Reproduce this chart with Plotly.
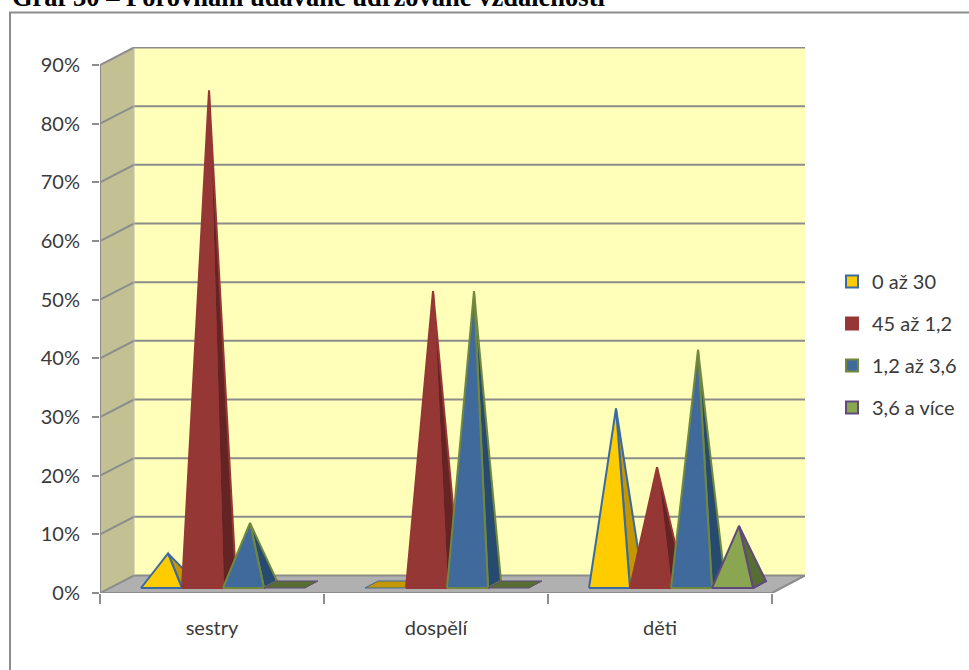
import plotly.graph_objects as go

categories = ["sestry", "dospělí", "děti"]
series_names = ["0 až 30", "45 až 1,2", "1,2 až 3,6", "3,6 a více"]
sestry = [5.3, 84.2, 10.5, 0]
dospeli = [0, 50, 50, 0]
deti = [30, 20, 40, 10]
y_ticks = [0, 10, 20, 30, 40, 50, 60, 70, 80, 90]
y_labels = ["0%", "10%", "20%", "30%", "40%", "50%", "60%", "70%", "80%", "90%"]

front_colors = ["#FFCC00", "#953735", "#40699C", "#8AA650"]
side_colors = ["#C49600", "#632423", "#264A70", "#586D33"]
line_colors = ["#3A6AA0", "#953735", "#71893F", "#5F4A7B"]

W, H = 969, 670
PX_L, PX_R, PX_T, PX_B = 100, 805, 47, 593
PX_PER_CAT = 224.0
PX_PER_PCT = (593 - 65) / 90
XMAX = (PX_R - PX_L) / PX_PER_CAT
YMAX = (PX_B - PX_T) / PX_PER_PCT
WALL_DX = 34 / PX_PER_CAT
WALL_DY = 17.5 / PX_PER_PCT
GROUP_START = 41 / PX_PER_CAT
BAR_W = 41 / PX_PER_CAT
BASE_DY0 = 5 / PX_PER_PCT
BASE_DY1 = 12 / PX_PER_PCT
BASE_DX = 13 / PX_PER_CAT
GRID = "#8C8C8C"

fig = go.Figure()


def poly(xs, ys, fill, line=None, width=0):
    fig.add_trace(go.Scatter(
        x=xs + xs[:1], y=ys + ys[:1], mode="lines", fill="toself", fillcolor=fill,
        line=dict(color=line or fill, width=width), showlegend=False, hoverinfo="skip",
        cliponaxis=False))


def seg(xs, ys, color=GRID, width=2):
    fig.add_trace(go.Scatter(x=xs, y=ys, mode="lines", line=dict(color=color, width=width),
                             showlegend=False, hoverinfo="skip", cliponaxis=False))


# walls and floor
poly([WALL_DX, XMAX, XMAX, WALL_DX], [WALL_DY, WALL_DY, 90 + WALL_DY, 90 + WALL_DY], "#FFFFB9")
poly([0, WALL_DX, WALL_DX, 0], [0, WALL_DY, 90 + WALL_DY, 90], "#C3C194")
poly([0, 3, XMAX, WALL_DX], [0, 0, WALL_DY, WALL_DY], "#B0B0B0")
for t in y_ticks:
    seg([0, WALL_DX, XMAX] if t else [0, WALL_DX, XMAX, 3, 0],
        [t, t + WALL_DY, t + WALL_DY] if t else [0, WALL_DY, WALL_DY, 0, 0])
seg([0, 0], [0, 90])
seg([WALL_DX, WALL_DX], [WALL_DY, 90 + WALL_DY], "#B9B9B9", 1)

# pyramids
for c, values in enumerate([sestry, dospeli, deti]):
    for s, v in enumerate(values):
        xl = c + GROUP_START + s * BAR_W
        xr = xl + BAR_W
        apex_x = (xl + xr + BASE_DX) / 2
        y0, y1 = BASE_DY0, BASE_DY1
        apex_y = (y0 + y1) / 2 + v
        poly([xl, xr, xr + BASE_DX, xl + BASE_DX], [y0, y0, y1, y1],
             side_colors[s], line_colors[s], 2 if v > 0 else 1)
        if v > 0:
            poly([xr, xr + BASE_DX, apex_x], [y0, y1, apex_y], side_colors[s], line_colors[s], 2)
            poly([xl, xr, apex_x], [y0, y0, apex_y], front_colors[s], line_colors[s], 2)

# legend entries
for s, name in enumerate(series_names):
    fig.add_trace(go.Scatter(
        x=[None], y=[None], mode="markers", name=name, legendgroup=name,
        marker=dict(symbol="square", size=12, color=front_colors[s],
                    line=dict(color=line_colors[s], width=2))))

FONT = "Lato"
fig.update_layout(
    width=W, height=H, autosize=False,
    margin=dict(l=0, r=0, t=0, b=0),
    paper_bgcolor="white", plot_bgcolor="rgba(0,0,0,0)",
    font=dict(family=FONT, size=20, color="#3A3A3A"),
    xaxis=dict(domain=[PX_L / W, PX_R / W], range=[0, XMAX], showgrid=False, zeroline=False,
               automargin=False,
               showline=False, tickmode="array", tickvals=[0.5, 1.5, 2.5], ticktext=categories,
               ticks="", ticklabelstandoff=21,
               minor=dict(tickmode="array", tickvals=[0, 1, 2, 3], ticks="outside", ticklen=10,
                          tickwidth=2, tickcolor=GRID, showgrid=False)),
    yaxis=dict(domain=[1 - PX_B / H, 1 - PX_T / H], range=[0, YMAX], showgrid=False, zeroline=False,
               automargin=False,
               showline=False, tickmode="array", tickvals=y_ticks, ticktext=y_labels,
               ticks="outside", ticklen=7, tickwidth=2, tickcolor=GRID, ticklabelstandoff=8),
    legend=dict(x=832 / W, y=1 - 262 / H, xanchor="left", yanchor="top", tracegroupgap=13,
                bgcolor="rgba(0,0,0,0)", font=dict(family=FONT, size=20), itemclick=False),
)
fig.add_annotation(text="<b>Graf 30 – Porovnání udávané udržované vzdálenosti</b>",
                   xref="paper", yref="paper", x=10 / W, y=1 + 20 / H,
                   xanchor="left", yanchor="top",
                   showarrow=False, font=dict(family="Liberation Serif", size=26.5, color="black"))
fig.add_shape(type="rect", xref="paper", yref="paper", x0=10 / W, x1=1100 / W,
              y0=1 - 800 / H, y1=1 - 12.5 / H, line=dict(color="#8C8C8C", width=2), layer="below")
fig.write_html("out.html", config={"displayModeBar": False},
               post_script="document.body.style.margin='0';document.body.style.overflow='hidden';")
